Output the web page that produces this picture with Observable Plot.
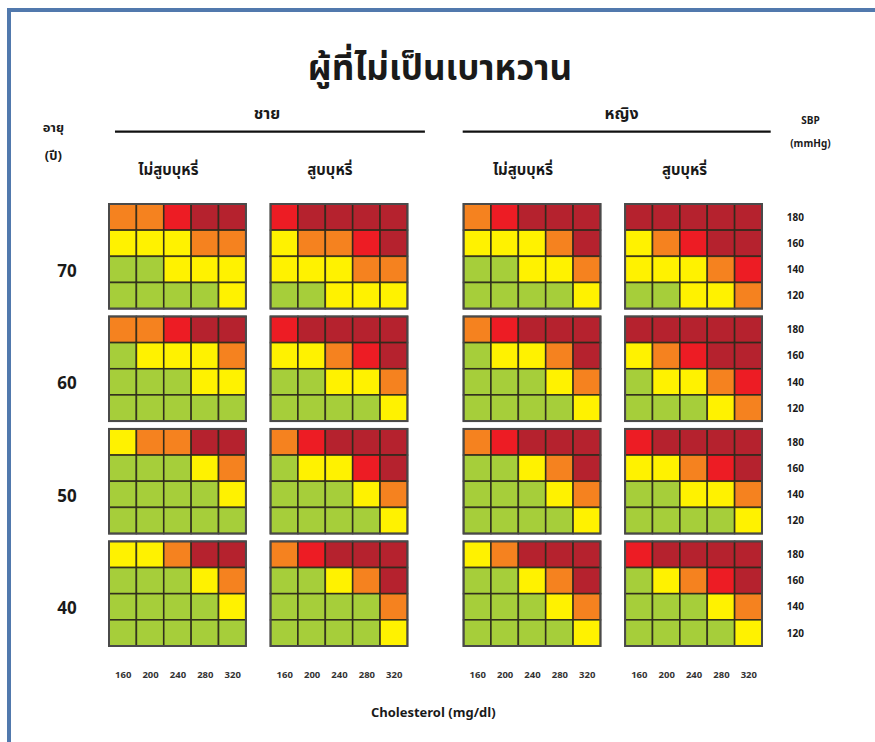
<!DOCTYPE html>
<html>
<head>
<meta charset="utf-8">
<script src="https://cdn.jsdelivr.net/npm/d3@7"></script>
<script src="https://cdn.jsdelivr.net/npm/@observablehq/plot@0.6"></script>
<style>
  html, body { margin: 0; padding: 0; background: #fff; }
  #wrap { position: relative; width: 875px; height: 742px; overflow: hidden; font-family: "Noto Sans Thai", "Noto Sans", "DejaVu Sans", sans-serif; }
  #frame { position: absolute; left: 7px; top: 8px; right: -10px; bottom: -10px; border-left: 4px solid #5179ad; border-top: 4px solid #5179ad; }
  #title { position: absolute; top: 43px; left: 0; width: 880px; text-align: center; font-size: 35px; font-weight: bold; color: #1a1a1a; letter-spacing: 0px; }
  #chart { position: absolute; left: 0; top: 90px; }
  #chart svg { font-family: "Noto Sans Thai", "Noto Sans", "DejaVu Sans", sans-serif; }
</style>
</head>
<body>
<div id="wrap">
  <div id="frame"></div>
  <div id="title">ผู้ที่ไม่เป็นเบาหวาน</div>
  <div id="chart"></div>
</div>
<script>
// ---------- data ----------
const titleText = "ผู้ที่ไม่เป็นเบาหวาน";
const sexes = ["ชาย", "หญิง"];
const smoking = ["ไม่สูบบุหรี่", "สูบบุหรี่"];
const ages = [70, 60, 50, 40];
const sbpTicks = [180, 160, 140, 120];
const cholTicks = [160, 200, 240, 280, 320];
const ageHeader = ["อายุ", "(ปี)"];
const sbpHeader = ["SBP", "(mmHg)"];
const xTitle = "Cholesterol (mg/dl)";
// risk level: 1 <10%, 2 10-<20%, 3 20-<30%, 4 30-<40%, 5 >=40%
const riskLevels = [1, 2, 3, 4, 5];
const riskColors = ["#a6ce3a", "#fff200", "#f5821f", "#ed1c24", "#b5222e"];
// rows: SBP 180,160,140,120 ; cols: chol 160..320 ; blocks: age 70,60,50,40
const maleNonSmoker = [
  [[3,3,4,5,5],[2,2,2,3,3],[1,1,2,2,2],[1,1,1,1,2]],
  [[3,3,4,5,5],[1,2,2,2,3],[1,1,1,2,2],[1,1,1,1,1]],
  [[2,3,3,5,5],[1,1,1,2,3],[1,1,1,1,2],[1,1,1,1,1]],
  [[2,2,3,5,5],[1,1,1,2,3],[1,1,1,1,2],[1,1,1,1,1]]
];
const maleSmoker = [
  [[4,5,5,5,5],[2,3,3,4,5],[2,2,2,3,3],[1,1,2,2,2]],
  [[4,5,5,5,5],[2,2,3,4,5],[1,1,2,2,3],[1,1,1,1,2]],
  [[3,4,5,5,5],[1,2,2,4,5],[1,1,1,2,3],[1,1,1,1,2]],
  [[3,4,5,5,5],[1,1,2,3,5],[1,1,1,1,3],[1,1,1,1,2]]
];
const femaleNonSmoker = [
  [[3,4,5,5,5],[2,2,2,3,5],[1,1,2,2,3],[1,1,1,1,2]],
  [[3,4,5,5,5],[1,2,2,3,5],[1,1,1,2,3],[1,1,1,1,2]],
  [[3,4,5,5,5],[1,1,2,3,5],[1,1,1,2,3],[1,1,1,1,2]],
  [[2,3,5,5,5],[1,1,2,3,5],[1,1,1,2,3],[1,1,1,1,2]]
];
const femaleSmoker = [
  [[5,5,5,5,5],[2,3,4,5,5],[2,2,2,3,4],[1,1,2,2,3]],
  [[5,5,5,5,5],[2,3,4,5,5],[1,2,2,3,4],[1,1,1,2,3]],
  [[4,5,5,5,5],[2,2,3,4,5],[1,1,2,2,3],[1,1,1,1,2]],
  [[4,5,5,5,5],[1,2,3,4,5],[1,1,1,2,3],[1,1,1,1,2]]
];

// ---------- layout (in cell units) ----------
const panelGap = 0.9, sexGap = 2.05, ageStride = 4.3;
const panels = [
  {sex: 0, smoke: 0, grid: maleNonSmoker},
  {sex: 0, smoke: 1, grid: maleSmoker},
  {sex: 1, smoke: 0, grid: femaleNonSmoker},
  {sex: 1, smoke: 1, grid: femaleSmoker}
];
const nCol = cholTicks.length, nRow = sbpTicks.length;
panels.forEach((p, i) => { p.x0 = i * (nCol + panelGap) + (p.sex === 1 ? sexGap - panelGap : 0); });
const xMax = panels[3].x0 + nCol;
const yMax = (ages.length - 1) * ageStride + nRow;

const cells = [];
const panelBoxes = [];
panels.forEach(p => {
  ages.forEach((age, a) => {
    panelBoxes.push({x1: p.x0, x2: p.x0 + nCol, y1: a * ageStride, y2: a * ageStride + nRow});
    sbpTicks.forEach((s, r) => {
      cholTicks.forEach((c, k) => {
        cells.push({x1: p.x0 + k, x2: p.x0 + k + 1, y1: a * ageStride + r, y2: a * ageStride + r + 1, level: p.grid[a][r][k]});
      });
    });
  });
});
const ageLabels = ages.map((age, a) => ({x: -1.55, y: a * ageStride + 2.55, text: String(age)}));
const sbpLabels = ages.flatMap((age, a) => sbpTicks.map((s, r) => ({x: xMax + 1.2, y: a * ageStride + r + 0.5, text: String(s)})));
const cholLabels = panels.flatMap(p => cholTicks.map((c, k) => ({x: p.x0 + k + 0.5, y: yMax + 1.1, text: String(c)})));
const lineExt = [[0.2, 0.62], [-0.05, 0.3]];
const sexLabels = sexes.map((s, i) => {
  const ps = panels.filter(p => p.sex === i);
  const x1 = ps[0].x0, x2 = ps[ps.length - 1].x0 + nCol;
  return {x: (x1 + x2) / 2 + 0.3, y: -3.48, text: s, lx1: x1 + lineExt[i][0], lx2: x2 + lineExt[i][1], ly: -2.79};
});
const smokeLabels = panels.map(p => ({x: p.x0 + nCol / 2 - 0.35, y: -1.3, text: smoking[p.smoke]}));

const chart = Plot.plot({
  width: 875,
  height: 652,
  marginLeft: 109,
  marginRight: 113,
  marginTop: 114,
  marginBottom: 96,
  x: {type: "linear", domain: [0, xMax], axis: null},
  y: {type: "linear", domain: [0, yMax], reverse: true, axis: null},
  color: {type: "ordinal", domain: riskLevels, range: riskColors},
  marks: [
    Plot.rect(cells, {x1: "x1", x2: "x2", y1: "y1", y2: "y2", fill: "level", stroke: "#2e2a1c", strokeWidth: 1.6, strokeOpacity: 0.9}),
    Plot.rect(panelBoxes, {x1: "x1", x2: "x2", y1: "y1", y2: "y2", fill: "none", stroke: "#4a4a4a", strokeWidth: 2}),
    Plot.text(ageLabels, {x: "x", y: "y", text: "text", fontSize: 17, fontWeight: "bold", fill: "#1a1a1a"}),
    Plot.text(sbpLabels, {x: "x", y: "y", text: "text", fontSize: 10, fontWeight: "bold", fill: "#1a1a1a"}),
    Plot.text(cholLabels, {x: "x", y: "y", text: "text", fontSize: 9.5, fontWeight: "bold", fill: "#333"}),
    Plot.text(sexLabels, {x: "x", y: "y", text: "text", fontSize: 16, fontWeight: "bold", fill: "#1a1a1a"}),
    Plot.link(sexLabels, {x1: "lx1", x2: "lx2", y1: "ly", y2: "ly", stroke: "#111", strokeWidth: 2.2}),
    Plot.text(smokeLabels, {x: "x", y: "y", text: "text", fontSize: 15, fontWeight: "bold", fill: "#1a1a1a"}),
    Plot.text(ageHeader.map((t, i) => ({t, i})), {x: -2.05, y: d => -2.94 + d.i * 1.07, text: "t", fontSize: 13, fontWeight: "bold", fill: "#1a1a1a"}),
    Plot.text(sbpHeader.map((t, i) => ({t, i})), {x: xMax + 1.75, y: d => -3.21 + d.i * 0.88, text: "t", fontSize: 10, fontWeight: "bold", fill: "#1a1a1a"}),
    Plot.text([xTitle], {x: xMax / 2 - 0.1, y: yMax + 2.55, text: d => d, fontSize: 13, fontWeight: "bold", fill: "#1a1a1a"})
  ]
});
document.getElementById("chart").appendChild(chart);
</script>
</body>
</html>
